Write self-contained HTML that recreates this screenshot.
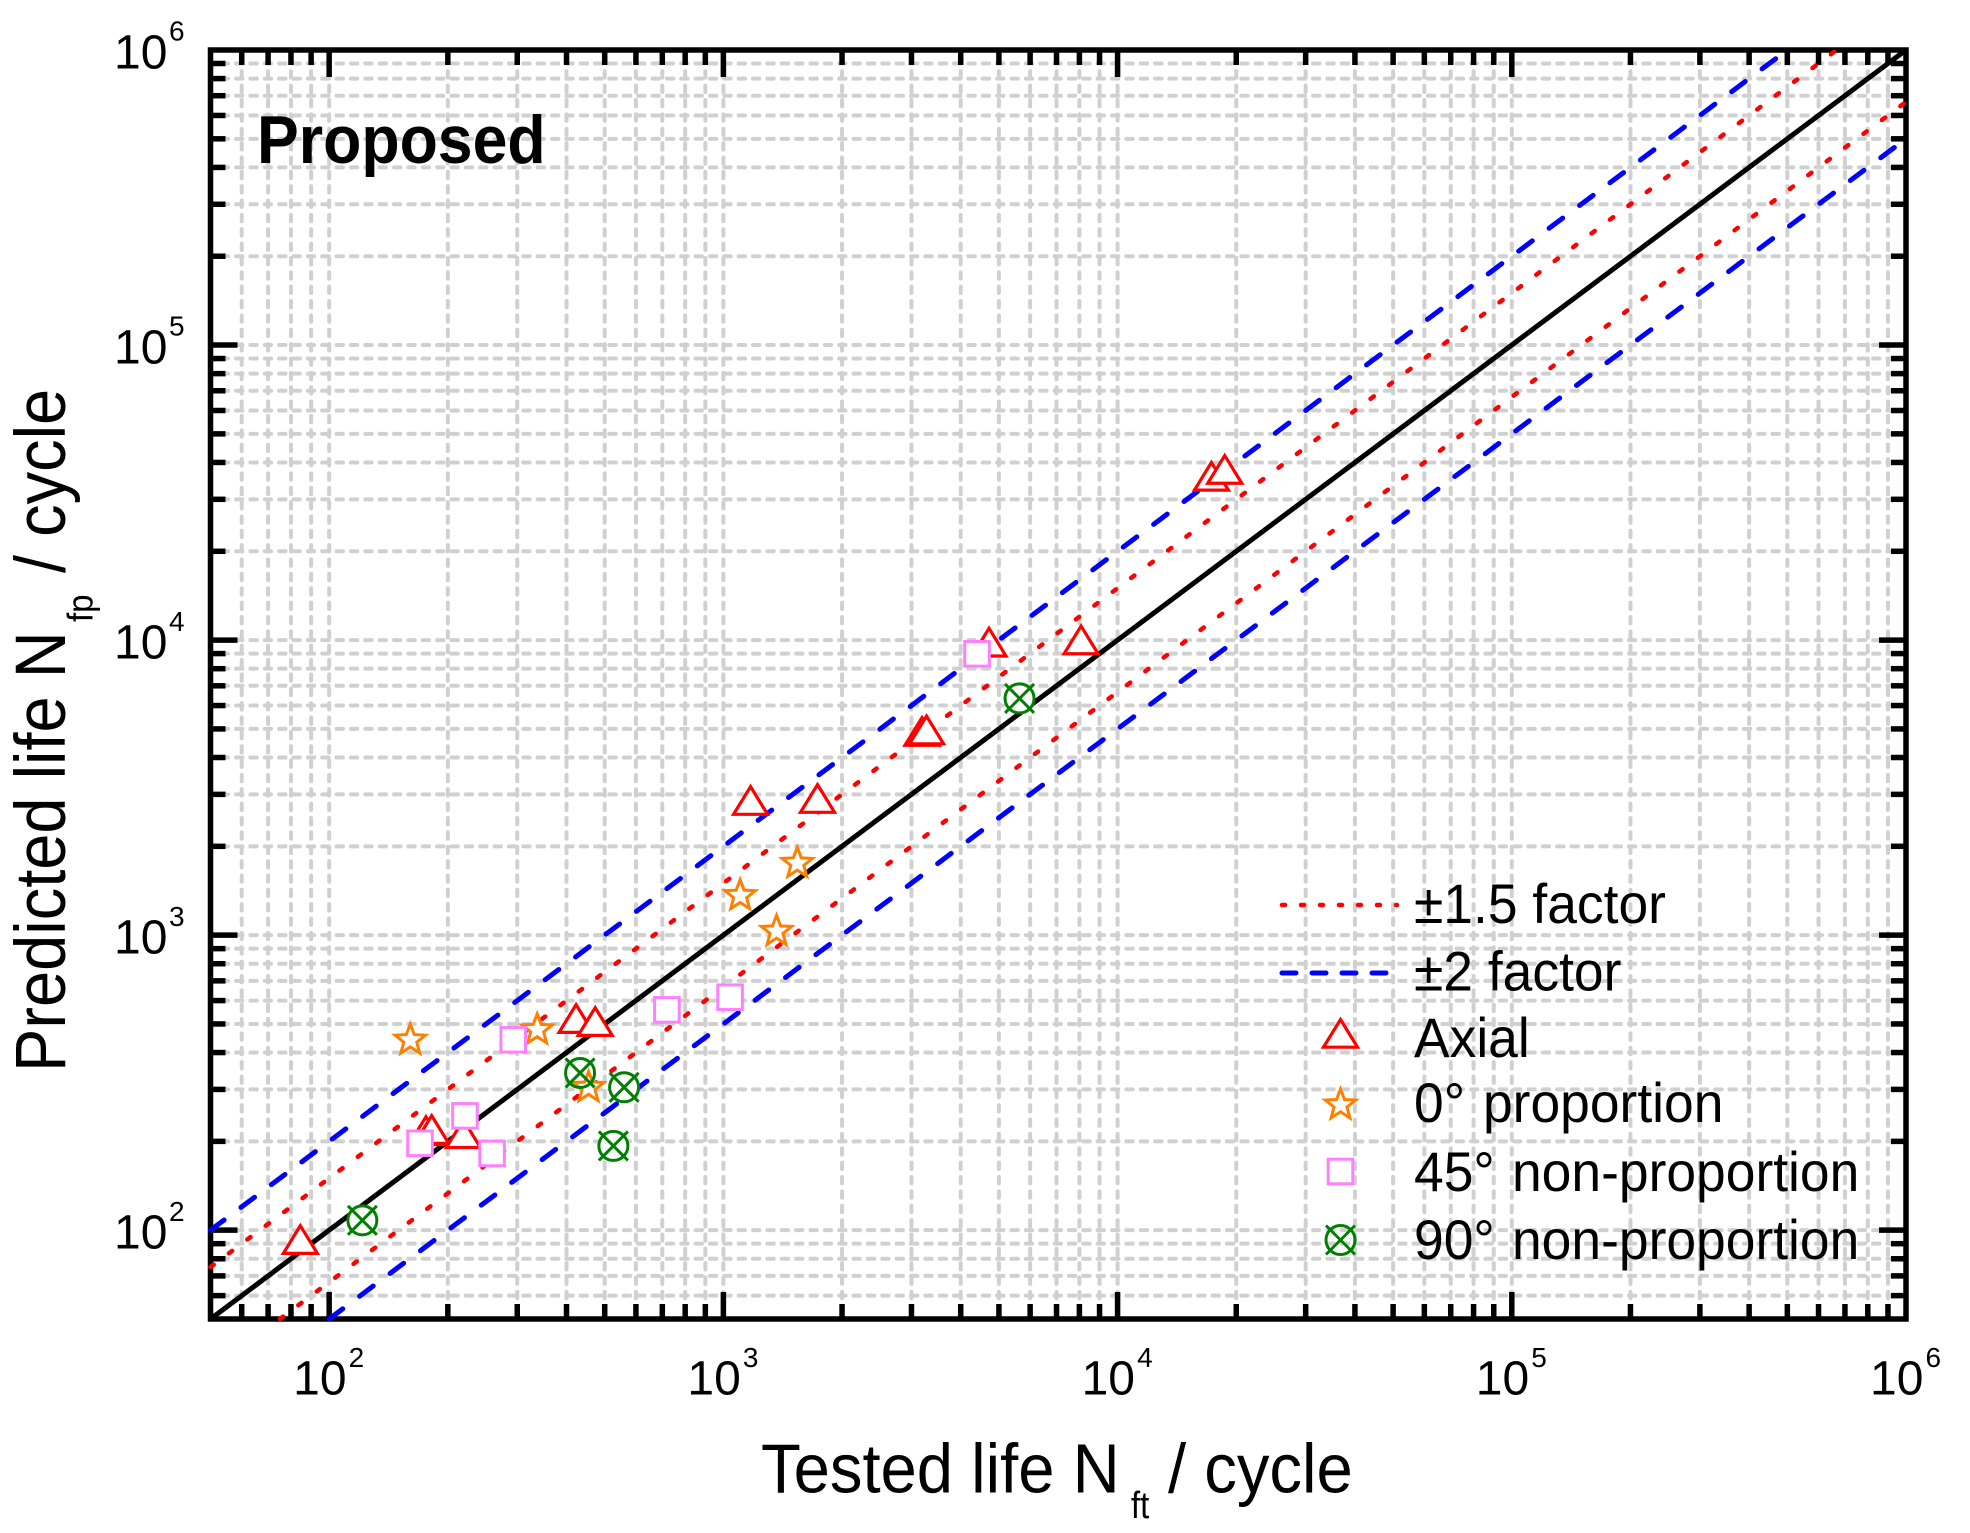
<!DOCTYPE html>
<html>
<head>
<meta charset="utf-8">
<title>Predicted vs tested life</title>
<style>
html,body{margin:0;padding:0;background:#fff;}
svg{display:block;}
text{font-family:"Liberation Sans",Arial,sans-serif;fill:#000;}
</style>
</head>
<body>
<svg id="chart" xmlns="http://www.w3.org/2000/svg" width="1970" height="1533" viewBox="0 0 1970 1533">
<rect width="1970" height="1533" fill="#fff"/>
<g id="grid"></g>
<g id="axes"></g>
<g id="ticklabels"></g>
<g id="reflines"></g>
<g id="points"></g>
<g id="legend">
<text transform="translate(1414,923) scale(1,1.05)" font-size="53.4">±1.5 factor</text>
<text transform="translate(1414,990.5) scale(1,1.05)" font-size="53.4">±2 factor</text>
<text transform="translate(1414,1057) scale(1,1.05)" font-size="53.4">Axial</text>
<text transform="translate(1414,1122) scale(1,1.05)" font-size="53.4">0° <tspan x="69">proportion</tspan></text>
<text transform="translate(1414,1191) scale(1,1.05)" font-size="53.4">45° <tspan x="98">non-proportion</tspan></text>
<text transform="translate(1414,1259) scale(1,1.05)" font-size="53.4">90° <tspan x="98">non-proportion</tspan></text>
</g>
<text transform="translate(257,163) scale(1,1.08)" font-size="62.6" font-weight="bold">Proposed</text>
<g>
<text transform="translate(761,1492.5) scale(1,1.06)" font-size="65.2">Tested life N</text>
<text transform="translate(1131,1518) scale(1,1.15)" font-size="33">ft</text>
<text transform="translate(1168,1492.5) scale(1,1.06)" font-size="65.2">/ cycle</text>
</g>
<g transform="translate(65,1072) rotate(-90) scale(1,1.1)">
<text x="0" y="0" font-size="65">Predicted life N</text>
<text x="450" y="25" font-size="33">fp</text>
<text x="499" y="0" font-size="65">/ cycle</text>
</g>
</svg>
<script>
// ---- chart data ----
const xDomain = [50, 1000000];
const yDomain = [50, 1000000];
const tickDecades = [2, 3, 4, 5, 6];
const allDecades = [1, 2, 3, 4, 5];
const minorMultipliers = [2, 3, 4, 5, 6, 7, 8, 9];
const factor15 = [1.5];
const factor2 = [2];
const axialX = [84.5, 176, 182, 219, 423, 473, 1172, 1733, 3190, 3276, 4719, 8080, 17300, 18700];
const axialY = [93.2, 218, 220, 213, 523, 511, 2868, 2913, 4914, 4973, 9867, 10040, 36000, 38000];
const prop0X = [160.6, 337, 455, 1103, 1540, 1364];
const prop0Y = [446, 483, 308, 1377, 1772, 1042];
const nonProp45X = [170, 221, 259, 293, 719, 1040, 4400];
const nonProp45Y = [197, 244, 182, 442, 558, 616, 8985];
const nonProp90X = [121.4, 433, 560, 526, 5640];
const nonProp90Y = [108, 341, 305, 193, 6344];

// ---- scales ----
const plotLeft = 210.5, plotRight = 1906, plotTop = 50, plotBottom = 1319;
const lx0 = Math.log10(xDomain[0]), lx1 = Math.log10(xDomain[1]);
const ly0 = Math.log10(yDomain[0]), ly1 = Math.log10(yDomain[1]);
function xScale(v){ return plotLeft + (Math.log10(v) - lx0) / (lx1 - lx0) * (plotRight - plotLeft); }
function yScale(v){ return plotBottom - (Math.log10(v) - ly0) / (ly1 - ly0) * (plotBottom - plotTop); }

const NS = 'http://www.w3.org/2000/svg';
function mk(tag, parent, attrs){
  const el = document.createElementNS(NS, tag);
  for (const k in attrs) el.setAttribute(k, attrs[k]);
  parent.appendChild(el);
  return el;
}
const gridG = document.getElementById('grid');
const axesG = document.getElementById('axes');
const labelsG = document.getElementById('ticklabels');
const refG = document.getElementById('reflines');
const ptsG = document.getElementById('points');
const legendG = document.getElementById('legend');

// ---- tick values ----
const majorVals = tickDecades.map(d => Math.pow(10, d));
const minorVals = [];
allDecades.forEach(d => minorMultipliers.forEach(m => {
  const v = m * Math.pow(10, d);
  if (v > 50 && v < 1000000) minorVals.push(v);
}));
const gridVals = majorVals.filter(v => v < 1000000).concat(minorVals);

// ---- grid ----
gridVals.forEach(v => {
  const ln = mk('line', gridG, {x1: xScale(v), x2: xScale(v), y1: plotTop, y2: plotBottom, stroke: '#d0d0d0', 'stroke-width': 4, 'stroke-dasharray': '6.36 8', 'stroke-dashoffset': -6.92, 'stroke-linecap': 'round'});
  
  
});
gridVals.forEach(v => {
  const ln = mk('line', gridG, {x1: plotLeft, x2: plotRight, y1: yScale(v), y2: yScale(v), stroke: '#d0d0d0', 'stroke-width': 4, 'stroke-dasharray': '6.36 8', 'stroke-dashoffset': 3.18, 'stroke-linecap': 'round'});
  
  
});

// ---- ticks ----
const majorLen = 27, minorLen = 15;
function drawTicks(vals, len, kind){
  vals.forEach(v => {
    if (v >= 1000000) return;
    const px = xScale(v), py = yScale(v);
    const b = mk('line', axesG, {x1: px, x2: px, y1: plotBottom, y2: plotBottom - len, stroke: '#000', 'stroke-width': 5.5});
    
    
    const t = mk('line', axesG, {x1: px, x2: px, y1: plotTop, y2: plotTop + len, stroke: '#000', 'stroke-width': 5.5});
    
    
    const l = mk('line', axesG, {x1: plotLeft, x2: plotLeft + len, y1: py, y2: py, stroke: '#000', 'stroke-width': 5.5});
    
    
    const r = mk('line', axesG, {x1: plotRight, x2: plotRight - len, y1: py, y2: py, stroke: '#000', 'stroke-width': 5.5});
    
    
  });
}
drawTicks(minorVals, minorLen, 'minor');
drawTicks(majorVals, majorLen, 'major');
const frame = mk('rect', axesG, {x: plotLeft, y: plotTop, width: plotRight - plotLeft, height: plotBottom - plotTop, fill: 'none', stroke: '#000', 'stroke-width': 5.5});



// ---- tick labels ----
tickDecades.forEach(d => {
  const v = Math.pow(10, d);
  const px = xScale(v), py = yScale(v);
  const xa = mk('text', labelsG, {x: px - 36, y: 1394.5, 'font-size': 48});
  xa.textContent = '10';
  
  
  const xs = mk('text', labelsG, {x: px + 19.5, y: 1367, 'font-size': 28});
  xs.textContent = String(d);
  
  
  const ya = mk('text', labelsG, {x: 114, y: py + 18.3, 'font-size': 48});
  ya.textContent = '10';
  
  
  const ys = mk('text', labelsG, {x: 169, y: py - 9.3, 'font-size': 28});
  ys.textContent = String(d);
  
  
});

// ---- reference lines ----
function drawRef(f, color, width, dash, name){
  const up = mk('line', refG, {x1: xScale(xDomain[0]), y1: yScale(xDomain[0] * f), x2: xScale(yDomain[1] / f), y2: yScale(yDomain[1]), stroke: color, 'stroke-width': width, 'stroke-dasharray': dash, 'stroke-linecap': 'round'});
  
  
  const lo = mk('line', refG, {x1: xScale(yDomain[0] * f), y1: yScale(yDomain[0]), x2: xScale(xDomain[1]), y2: yScale(xDomain[1] / f), stroke: color, 'stroke-width': width, 'stroke-dasharray': dash, 'stroke-linecap': 'round'});
  
  
}
factor15.forEach(f => drawRef(f, '#ff0000', 4.5, '4 19', 'factor-1-5'));
factor2.forEach(f => drawRef(f, '#0000ff', 5, '17 21', 'factor-2'));
const identity = mk('line', refG, {x1: xScale(xDomain[0]), y1: yScale(yDomain[0]), x2: xScale(xDomain[1]), y2: yScale(yDomain[1]), stroke: '#000', 'stroke-width': 5});



// ---- marker shapes ----
function drawTriangle(parent, px, py, name){
  const pts = [[0, -13.5], [17, 14.2], [-17, 14.2]].map(p => (px + p[0]) + ',' + (py + p[1])).join(' ');
  const el = mk('polygon', parent, {points: pts, fill: '#fff', stroke: '#ff0000', 'stroke-width': 3.2, 'stroke-miterlimit': 10});
  
  
}
function drawStar(parent, px, py, name){
  const R = 16, r = 6.8, pts = [];
  for (let i = 0; i < 10; i++){
    const a = -Math.PI / 2 + i * Math.PI / 5, q = i % 2 ? r : R;
    pts.push((px + q * Math.cos(a)) + ',' + (py + 1.5 + q * Math.sin(a)));
  }
  const el = mk('polygon', parent, {points: pts.join(' '), fill: '#fff', stroke: '#ff8000', 'stroke-width': 3, 'stroke-miterlimit': 10});
  
  
}
function drawSquare(parent, px, py, name){
  const el = mk('rect', parent, {x: px - 12.3, y: py - 12.3, width: 24.6, height: 24.6, fill: '#fff', stroke: '#ff80ff', 'stroke-width': 3});
  
  
}
function drawCircleFill(parent, px, py, name){
  const el = mk('circle', parent, {cx: px, cy: py, r: 14.5, fill: '#fff'});
  
  
}
function drawCrossCircle(parent, px, py, name){
  const g = mk('g', parent, {fill: 'none', stroke: '#008000', 'stroke-width': 3});
  
  
  mk('circle', g, {cx: px, cy: py, r: 14.5});
  mk('line', g, {x1: px - 14.5, y1: py - 14.5, x2: px + 14.5, y2: py + 14.5});
  mk('line', g, {x1: px + 14.5, y1: py - 14.5, x2: px - 14.5, y2: py + 14.5});
}

// ---- data points ----
axialX.forEach((v, i) => drawTriangle(ptsG, xScale(v), yScale(axialY[i]), 'axial-point'));
nonProp90X.forEach((v, i) => drawCircleFill(ptsG, xScale(v), yScale(nonProp90Y[i]), 'non-proportion-90-point-fill'));
prop0X.forEach((v, i) => drawStar(ptsG, xScale(v), yScale(prop0Y[i]), 'proportion-0-point'));
nonProp45X.forEach((v, i) => drawSquare(ptsG, xScale(v), yScale(nonProp45Y[i]), 'non-proportion-45-point'));
nonProp90X.forEach((v, i) => drawCrossCircle(ptsG, xScale(v), yScale(nonProp90Y[i]), 'non-proportion-90-point'));

// ---- legend keys ----
const legRed = mk('line', legendG, {x1: 1282, x2: 1397, y1: 905, y2: 905, stroke: '#ff0000', 'stroke-width': 4.5, 'stroke-dasharray': '3 16', 'stroke-linecap': 'round'});


const legBlue = mk('line', legendG, {x1: 1282, x2: 1390, y1: 973, y2: 973, stroke: '#0000ff', 'stroke-width': 5, 'stroke-dasharray': '14 16', 'stroke-linecap': 'round'});


drawTriangle(legendG, 1340.5, 1033, 'legend-key-axial');
drawStar(legendG, 1340.5, 1103.5, 'legend-key-0-proportion');
drawSquare(legendG, 1340.5, 1171.5, 'legend-key-45-non-proportion');
drawCrossCircle(legendG, 1340.5, 1240, 'legend-key-90-non-proportion');
</script>
</body>
</html>
